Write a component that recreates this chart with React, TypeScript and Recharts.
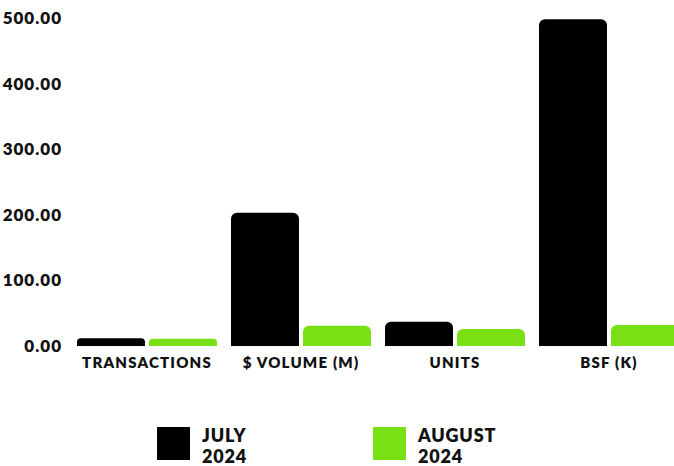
import { BarChart, Bar, XAxis, YAxis, Legend } from "recharts"

const categories = ["TRANSACTIONS", "$ VOLUME (M)", "UNITS", "BSF (K)"]
const july2024 = [12, 203, 37, 498]
const august2024 = [11, 31, 26, 32]
const yTicks = [0, 100, 200, 300, 400, 500]

const FONT = "Lato, 'Noto Sans', sans-serif"
const GREEN = "#78e014"

const data = categories.map((name, i) => ({
  name,
  july: july2024[i],
  august: august2024[i],
}))

const legendItems = [
  { label: ["JULY", "2024"], color: "#000000", width: 216 },
  { label: ["AUGUST", "2024"], color: GREEN, width: 150 },
]

function CustomLegend() {
  return (
    <div style={{ height: 90, paddingTop: 51, paddingLeft: 167, display: "flex", boxSizing: "border-box" }}>
      {legendItems.map((item) => (
        <div key={item.label[0]} style={{ display: "flex", width: item.width, alignItems: "flex-start" }}>
          <div style={{ width: 33, height: 33, background: item.color, flexShrink: 0 }} />
          <div
            style={{
              marginLeft: 12,
              marginTop: -2,
              fontFamily: FONT,
              fontWeight: 800,
              fontSize: 18,
              lineHeight: "21px",
              letterSpacing: 0.8,
              color: "#111",
              textAlign: "left",
            }}
          >
            {item.label[0]}
            <br />
            {item.label[1]}
          </div>
        </div>
      ))}
    </div>
  )
}

export default function App() {
  return (
    <div style={{ position: "absolute", left: 0, top: 0, width: 674, height: 466, overflow: "hidden", background: "#fff" }}>
      <div style={{ position: "absolute", left: -10, top: 0 }}>
        <BarChart
          width={712}
          height={466}
          data={data}
          margin={{ top: 18, right: 16, bottom: 0, left: 0 }}
          barCategoryGap={7}
          barGap={4}
        >
          <XAxis
            dataKey="name"
            axisLine={false}
            tickLine={false}
            height={30}
            tick={{ fill: "#111", fontSize: 15, fontWeight: 800, fontFamily: FONT, letterSpacing: 1.2 }}
            tickMargin={5}
            interval={0}
          />
          <YAxis
            domain={[0, 500]}
            ticks={yTicks}
            axisLine={false}
            tickLine={false}
            width={80}
            tickFormatter={(v: number) => v.toFixed(2)}
            tick={{ fill: "#111", fontSize: 17, fontWeight: 800, fontFamily: FONT, letterSpacing: 1 }}
          />
          <Legend verticalAlign="bottom" content={<CustomLegend />} />
          <Bar dataKey="july" fill="#000000" radius={[6, 6, 0, 0]} isAnimationActive={false} />
          <Bar dataKey="august" fill={GREEN} radius={[6, 6, 0, 0]} isAnimationActive={false} />
        </BarChart>
      </div>
    </div>
  )
}
